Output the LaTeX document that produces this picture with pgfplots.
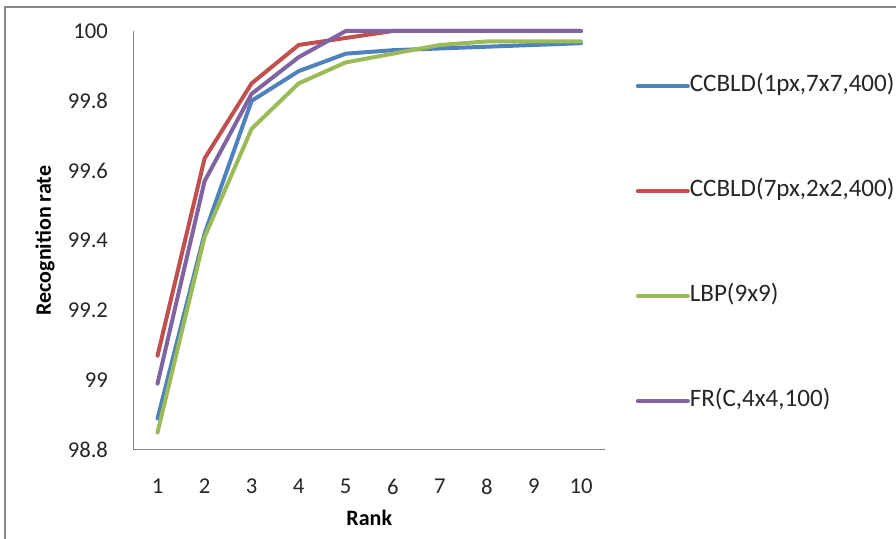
\documentclass[border=0pt]{standalone}
\usepackage{pgfplots}
\pgfplotsset{compat=1.18}
\usepackage{fontspec}
\setmainfont{Carlito}
\definecolor{cblue}{HTML}{4F81BD}
\definecolor{cred}{HTML}{C0504D}
\definecolor{cgreen}{HTML}{9BBB59}
\definecolor{cpurple}{HTML}{8064A2}
\definecolor{axgray}{HTML}{868686}
\begin{document}
\begin{tikzpicture}
\path[use as bounding box] (-100.5pt,-66.75pt) rectangle (571.5pt,337.5pt);
\draw[axgray, line width=1.5pt] (-97pt,-70pt) -- (-97pt,332.25pt) -- (575pt,332.25pt);
\begin{axis}[
  at={(0,0)}, anchor=origin,
  scale only axis, width=352.9pt, height=314.25pt,
  xmin=0.5, xmax=10.5, ymin=98.8, ymax=100,
  xtick={1,...,10}, ytick={98.8,99,99.2,99.4,99.6,99.8,100},
  yticklabels={98.8,99,99.2,99.4,99.6,99.8,100},
  axis lines=left, axis line style={axgray, line width=0.75pt, -},
  major tick length=0pt,
  clip=false,
  /pgf/number format/assume math mode=true,
  tick label style={font=\fontsize{17}{20}\selectfont, text=black!85},
  yticklabel style={xshift=-16pt},
  xticklabel style={yshift=-18pt},
  xlabel={\bfseries Rank}, ylabel={\bfseries Recognition rate},
  label style={font=\fontsize{16.5}{19}\selectfont},
  xlabel style={yshift=-5pt},
  ylabel style={yshift=3pt},
  legend cell align=left,
  legend style={at={(1.066,0.894)}, anchor=north west, draw=none, fill=none,
    inner sep=0pt, font=\fontsize{18.8}{22}\selectfont, text=black!85,
    row sep=62.75pt,
    nodes={text height=12pt, text depth=4pt, inner sep=0pt, outer sep=0pt}},
  legend image code/.code={\draw[#1, line width=3pt] (0pt,0pt) -- (37.5pt,0pt);},
  every axis plot/.append style={line width=3pt, line join=round, line cap=round},
]
\addplot[cblue] coordinates {(1,98.89) (2,99.42) (3,99.80) (4,99.885) (5,99.935) (6,99.945) (7,99.95) (8,99.955) (9,99.96) (10,99.965)};
\addlegendentry{CCBLD(1px,7x7,400)}
\addplot[cred] coordinates {(1,99.07) (2,99.635) (3,99.85) (4,99.96) (5,99.98) (6,100) (7,100) (8,100) (9,100) (10,100)};
\addlegendentry{CCBLD(7px,2x2,400)}
\addplot[cgreen] coordinates {(1,98.85) (2,99.41) (3,99.72) (4,99.85) (5,99.91) (6,99.935) (7,99.96) (8,99.97) (9,99.97) (10,99.97)};
\addlegendentry{LBP(9x9)}
\addplot[cpurple] coordinates {(1,98.99) (2,99.57) (3,99.82) (4,99.925) (5,100) (6,100) (7,100) (8,100) (9,100) (10,100)};
\addlegendentry{FR(C,4x4,100)}
\end{axis}
\end{tikzpicture}
\end{document}
